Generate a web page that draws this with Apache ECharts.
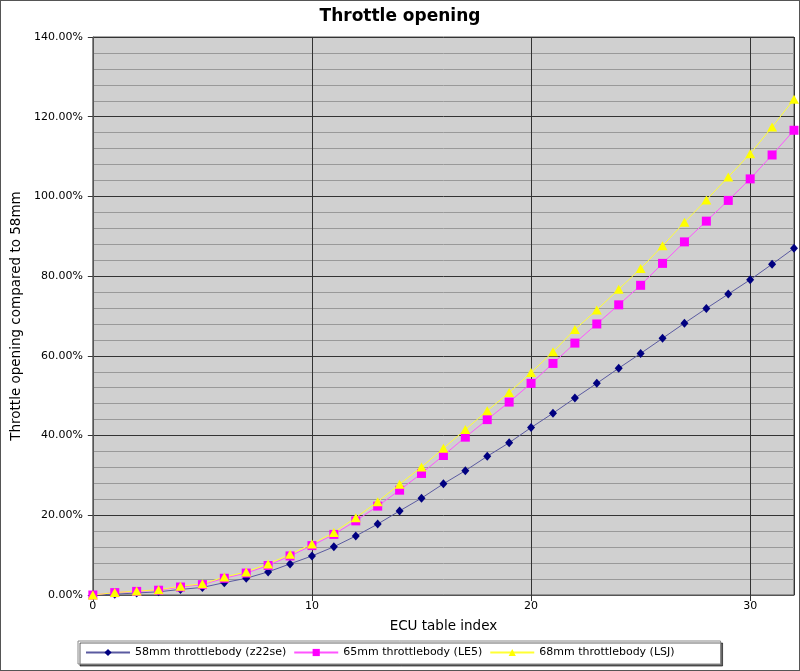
<!DOCTYPE html>
<html>
<head>
<meta charset="utf-8">
<script src="https://cdn.jsdelivr.net/npm/echarts@6/dist/echarts.min.js"></script>
<style>
	html, body { margin: 0; padding: 0; background: #fff; }
	#chart { width: 798px; height: 669px; border: 1px solid #555; }
</style>
</head>
<body>
<div id="chart"></div>
<script>
// ECU table index
const tableIndex = [0, 1, 2, 3, 4, 5, 6, 7, 8, 9, 10, 11, 12, 13, 14, 15, 16, 17, 18, 19, 20, 21, 22, 23, 24, 25, 26, 27, 28, 29, 30, 31, 32]
// throttle opening (%) compared to 58mm
const tb58 = [0, 0.2, 0.5, 0.8, 1.4, 1.9, 3.1, 4.2, 5.8, 7.8, 9.8, 12.1, 14.8, 17.8, 21.1, 24.3, 27.9, 31.2, 34.8, 38.2, 42.0, 45.6, 49.4, 53.1, 56.9, 60.6, 64.4, 68.2, 71.9, 75.5, 79.1, 83.0, 87.0]
const tb65 = [0, 0.6, 0.9, 1.2, 2.0, 2.6, 4.2, 5.5, 7.4, 9.8, 12.4, 15.2, 18.6, 22.3, 26.3, 30.5, 35.0, 39.6, 44.0, 48.4, 53.1, 58.1, 63.2, 68.0, 72.8, 77.7, 83.2, 88.6, 93.8, 99.0, 104.4, 110.4, 116.6]
const tb68 = [0, 0.6, 1.0, 1.3, 2.2, 2.8, 4.5, 5.8, 7.8, 10.2, 12.8, 15.7, 19.4, 23.4, 27.8, 32.1, 36.8, 41.5, 46.2, 50.8, 55.8, 61.0, 66.6, 71.5, 76.7, 81.9, 87.6, 93.5, 99.1, 104.9, 110.7, 117.4, 124.4]
const names = ['58mm throttlebody (z22se)', '65mm throttlebody (LE5)', '68mm throttlebody (LSJ)']

const pairs = arr => tableIndex.map((x, i) => [x, arr[i]])
const font = 'DejaVu Sans'

echarts.init(document.getElementById('chart')).setOption({
	animation: false,
	textStyle: { fontFamily: font },
	title: {
		text: 'Throttle opening',
		left: 'center',
		top: 2,
		textStyle: { fontSize: 17, fontWeight: 'bold', color: '#000', fontFamily: font }
	},
	grid: {
		left: 87,
		right: 5,
		top: 36,
		bottom: 75,
		show: true,
		backgroundColor: '#d0d0d0',
		borderColor: '#555',
		borderWidth: 1
	},
	legend: {
		left: 77,
		top: 640,
		orient: 'horizontal',
		itemWidth: 44,
		itemHeight: 9,
		itemGap: 7,
		padding: [6, 46, 6, 7],
		borderColor: '#888',
		borderWidth: 1,
		backgroundColor: '#fff',
		shadowColor: 'rgba(0,0,0,0.6)',
		shadowOffsetX: 2,
		shadowOffsetY: 2,
		textStyle: { fontSize: 11, color: '#000', fontFamily: font, width: 158, overflow: 'none' },
		data: names
	},
	xAxis: {
		type: 'value',
		min: 0,
		max: 32,
		interval: 10,
		name: 'ECU table index',
		nameLocation: 'middle',
		nameGap: 24,
		nameTextStyle: { fontSize: 13.5, color: '#000', fontFamily: font },
		axisLine: { show: true, lineStyle: { color: '#555' } },
		axisTick: { show: true, length: 6, lineStyle: { color: '#333' } },
		axisLabel: { margin: 6, fontSize: 11, color: '#000', showMaxLabel: false },
		splitLine: { show: true, lineStyle: { color: '#333', width: 1 } }
	},
	yAxis: {
		type: 'value',
		min: 0,
		max: 140,
		interval: 20,
		name: 'Throttle opening compared to 58mm',
		nameLocation: 'middle',
		nameGap: 68,
		nameTextStyle: { fontSize: 13.5, color: '#000', fontFamily: font },
		axisLine: { show: true, lineStyle: { color: '#555' } },
		axisTick: { show: true, length: 5, lineStyle: { color: '#333' } },
		axisLabel: {
			margin: 10,
			fontSize: 11,
			color: '#000',
			formatter: v => v.toFixed(2) + '%'
		},
		splitLine: { show: true, lineStyle: { color: '#333', width: 1 } },
		minorTick: { show: false, splitNumber: 5 },
		minorSplitLine: { show: true, lineStyle: { color: '#999', width: 1 } }
	},
	series: [
		{
			type: 'line',
			name: names[0],
			symbol: 'diamond',
			symbolSize: [8, 9],
			lineStyle: { color: '#5a5aa0', width: 1 },
			itemStyle: { color: '#000080' },
			data: pairs(tb58)
		},
		{
			type: 'line',
			name: names[1],
			symbol: 'rect',
			symbolSize: 9,
			lineStyle: { color: '#ff55ff', width: 1 },
			itemStyle: { color: '#ff00ff' },
			data: pairs(tb65)
		},
		{
			type: 'line',
			name: names[2],
			symbol: 'triangle',
			symbolSize: [10, 9],
			lineStyle: { color: '#ffff33', width: 1 },
			itemStyle: { color: '#ffff00' },
			data: pairs(tb68)
		}
	]
})
</script>
</body>
</html>
